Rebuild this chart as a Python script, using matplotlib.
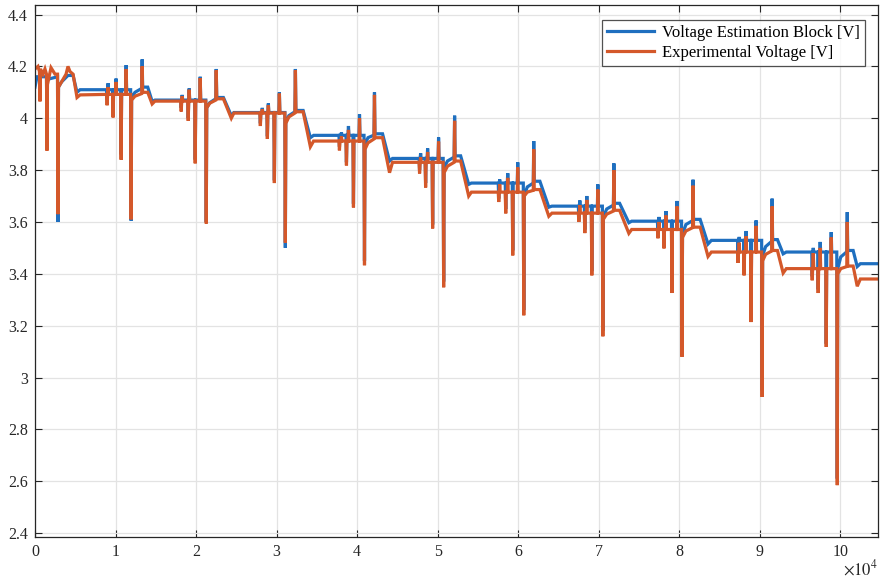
import matplotlib
matplotlib.use("Agg")
import matplotlib.pyplot as plt

plt.rcParams['font.family'] = ['Liberation Serif', 'DejaVu Serif']
plt.rcParams['mathtext.fontset'] = 'stix'

# time axis in units of 1e4
# first (irregular) part of the record, read point by point
est0_t = [0, 0.025, 0.056, 0.062, 0.068, 0.143, 0.149, 0.155, 0.280, 0.286, 0.292, 0.33, 0.41, 0.473, 0.522, 0.56]
est0_v = [4.12, 4.16, 4.16, 4.10, 4.16, 4.16, 3.95, 4.15, 4.16, 3.60, 4.12, 4.14, 4.165, 4.165, 4.10, 4.11]
exp0_t = [0, 0.037, 0.056, 0.062, 0.068, 0.10, 0.124, 0.143, 0.149, 0.155, 0.199, 0.249,
          0.280, 0.286, 0.292, 0.386, 0.41, 0.435, 0.473, 0.522, 0.56]
exp0_v = [4.19, 4.20, 4.18, 4.065, 4.19, 4.17, 4.19, 4.17, 3.875, 4.13, 4.195, 4.17,
          4.17, 3.63, 4.12, 4.17, 4.20, 4.18, 4.17, 4.08, 4.09]

# pulse cycles: d1 u1 d2 u2 d3 u3 d4 u4 drop_start drop_bottom next_plateau
cycle_t = [
    [0.896, 0.908, 0.970, 1.007, 1.070, 1.132, 1.194, 1.331, 1.40, 1.455, 1.49],
    [1.816, 1.828, 1.903, 1.915, 1.990, 2.052, 2.127, 2.251, 2.34, 2.438, 2.47],
    [2.799, 2.823, 2.886, 2.898, 2.973, 3.035, 3.109, 3.234, 3.33, 3.42, 3.46],
    [3.781, 3.806, 3.868, 3.893, 3.955, 4.030, 4.092, 4.216, 4.316, 4.403, 4.44],
    [4.776, 4.789, 4.851, 4.876, 4.938, 5.012, 5.075, 5.211, 5.286, 5.386, 5.42],
    [5.759, 5.771, 5.846, 5.871, 5.933, 5.995, 6.070, 6.194, 6.27, 6.381, 6.42],
    [6.754, 6.766, 6.828, 6.853, 6.915, 6.990, 7.052, 7.189, 7.26, 7.375, 7.41],
    [7.736, 7.749, 7.811, 7.836, 7.910, 7.973, 8.035, 8.172, 8.26, 8.358, 8.40],
    [8.731, 8.745, 8.806, 8.831, 8.893, 8.955, 9.030, 9.154, 9.22, 9.291, 9.33],
    [9.652, 9.665, 9.726, 9.751, 9.826, 9.888, 9.963, 10.087, 10.16, 10.211, 10.25],
]
t_end = 10.47

# Voltage Estimation Block
est_plateau = [4.11, 4.07, 4.022, 3.934, 3.845, 3.75, 3.661, 3.603, 3.529, 3.484]
est_down = [[4.07, 4.02, 3.86, 3.605], [4.04, 4.0, 3.84, 3.60], [3.98, 3.93, 3.76, 3.50],
            [3.89, 3.83, 3.67, 3.45], [3.80, 3.75, 3.59, 3.37], [3.69, 3.65, 3.49, 3.26],
            [3.61, 3.57, 3.41, 3.18], [3.55, 3.51, 3.34, 3.10], [3.46, 3.41, 3.23, 2.95],
            [3.39, 3.34, 3.13, 2.61]]
est_up = [[4.135, 4.153, 4.205, 4.227], [4.09, 4.115, 4.16, 4.19], [4.04, 4.057, 4.10, 4.19],
          [3.945, 3.97, 4.015, 4.10], [3.865, 3.884, 3.926, 4.01], [3.764, 3.788, 3.83, 3.912],
          [3.683, 3.70, 3.745, 3.826], [3.619, 3.642, 3.681, 3.763], [3.542, 3.565, 3.606, 3.69],
          [3.50, 3.523, 3.561, 3.638]]
est_recover = [[4.08, 4.10, 4.115], [4.04, 4.06, 4.075], [3.985, 4.01, 4.025], [3.90, 3.925, 3.935],
               [3.81, 3.835, 3.85], [3.70, 3.735, 3.75], [3.62, 3.65, 3.665], [3.55, 3.59, 3.605],
               [3.47, 3.505, 3.525], [3.42, 3.465, 3.485]]
est_bump = [4.12, 4.08, 4.03, 3.94, 3.855, 3.757, 3.672, 3.61, 3.532, 3.49]
est_bottom = [4.065, 4.01, 3.925, 3.835, 3.745, 3.657, 3.597, 3.515, 3.477, 3.428]
est_next = [4.07, 4.022, 3.934, 3.845, 3.75, 3.661, 3.603, 3.529, 3.484, 3.439]

# Experimental Voltage
exp_plateau = [4.092, 4.066, 4.02, 3.912, 3.83, 3.715, 3.634, 3.571, 3.484, 3.42]
exp_down = [[4.05, 4.003, 3.84, 3.61], [4.026, 3.99, 3.826, 3.594], [3.97, 3.92, 3.75, 3.52],
            [3.876, 3.818, 3.656, 3.433], [3.787, 3.733, 3.575, 3.348], [3.677, 3.633, 3.471, 3.24],
            [3.60, 3.557, 3.394, 3.159], [3.537, 3.498, 3.326, 3.08], [3.442, 3.394, 3.214, 2.925],
            [3.375, 3.326, 3.118, 2.585]]
exp_up = [[4.12, 4.14, 4.19, 4.20], [4.085, 4.11, 4.155, 4.185], [4.035, 4.05, 4.095, 4.185],
          [3.93, 3.955, 4.0, 4.09], [3.85, 3.87, 3.91, 3.99], [3.745, 3.77, 3.81, 3.88],
          [3.665, 3.685, 3.725, 3.80], [3.60, 3.625, 3.66, 3.74], [3.52, 3.545, 3.585, 3.66],
          [3.48, 3.50, 3.54, 3.60]]
exp_recover = [[4.07, 4.085, 4.095], [4.04, 4.058, 4.07], [3.98, 4.005, 4.02], [3.88, 3.905, 3.92],
               [3.79, 3.815, 3.83], [3.70, 3.715, 3.722], [3.61, 3.63, 3.642], [3.54, 3.565, 3.578],
               [3.45, 3.475, 3.488], [3.40, 3.42, 3.428]]
exp_bump = [4.10, 4.075, 4.025, 3.925, 3.835, 3.725, 3.645, 3.58, 3.49, 3.43]
exp_bottom = [4.055, 4.0, 3.89, 3.79, 3.70, 3.622, 3.556, 3.467, 3.403, 3.352]
exp_next = [4.066, 4.02, 3.912, 3.83, 3.715, 3.634, 3.571, 3.484, 3.42, 3.38]


def build_trace(t0, v0, plateau, down, up, recover, bump, bottom, nxt, w=0.006):
    t, v = list(t0), list(v0)
    for k, ct in enumerate(cycle_t):
        d1, u1, d2, u2, d3, u3, d4, u4, ds, db, dp = ct
        p = plateau[k]
        for ts, val in [(d1, down[k][0]), (u1, up[k][0]), (d2, down[k][1]),
                        (u2, up[k][1]), (d3, down[k][2]), (u3, up[k][2])]:
            t += [ts - w, ts, ts + w]
            v += [p, val, p]
        lo, mid, hi = recover[k]
        t += [d4 - w, d4, d4 + w, d4 + 0.35 * (u4 - d4), u4 - w, u4, u4 + w, ds, db, dp]
        v += [p, down[k][3], lo, mid, hi, up[k][3], bump[k], bump[k], bottom[k], nxt[k]]
    t.append(t_end)
    v.append(nxt[-1])
    return t, v


est_t, est_v = build_trace(est0_t, est0_v, est_plateau, est_down, est_up, est_recover,
                           est_bump, est_bottom, est_next)
exp_t, exp_v = build_trace(exp0_t, exp0_v, exp_plateau, exp_down, exp_up, exp_recover,
                           exp_bump, exp_bottom, exp_next)

fig = plt.figure(figsize=(8.81, 5.86), dpi=100)
ax = fig.add_axes([0.0397, 0.0836, 0.957, 0.908])

ax.plot(est_t, est_v, color='#1f6fbf', lw=2.3, label='Voltage Estimation Block [V]', solid_joinstyle='miter')
ax.plot(exp_t, exp_v, color='#d4582a', lw=2.3, label='Experimental Voltage [V]', solid_joinstyle='miter')

ax.set_xlim(0, 10.47)
ax.set_ylim(2.385, 4.437)
xt = list(range(11))
yt = [2.4, 2.6, 2.8, 3.0, 3.2, 3.4, 3.6, 3.8, 4.0, 4.2, 4.4]
ax.set_xticks(xt)
ax.set_xticklabels([str(x) for x in xt])
ax.set_yticks(yt)
ax.set_yticklabels(['%g' % y for y in yt])
ax.tick_params(direction='in', length=5, width=0.8, colors='#262626', labelsize=11.5,
               top=True, right=True, pad=5)
ax.grid(True, color='#e3e3e3', lw=0.9)
ax.set_axisbelow(True)
for s in ax.spines.values():
    s.set_color('#262626')
    s.set_linewidth(0.9)

leg = ax.legend(loc='upper right', bbox_to_anchor=(0.9846, 0.9718), borderaxespad=0,
                fontsize=12, frameon=True, fancybox=False, handlelength=2.8,
                labelspacing=0.25, borderpad=0.3, handletextpad=0.5)
leg.get_frame().set_edgecolor('#262626')
leg.get_frame().set_linewidth(0.9)

fig.text(0.997, 0.012, r'$\times10^{4}$', ha='right', va='bottom', fontsize=12, color='#262626')

fig.savefig('out.png', dpi=100)
